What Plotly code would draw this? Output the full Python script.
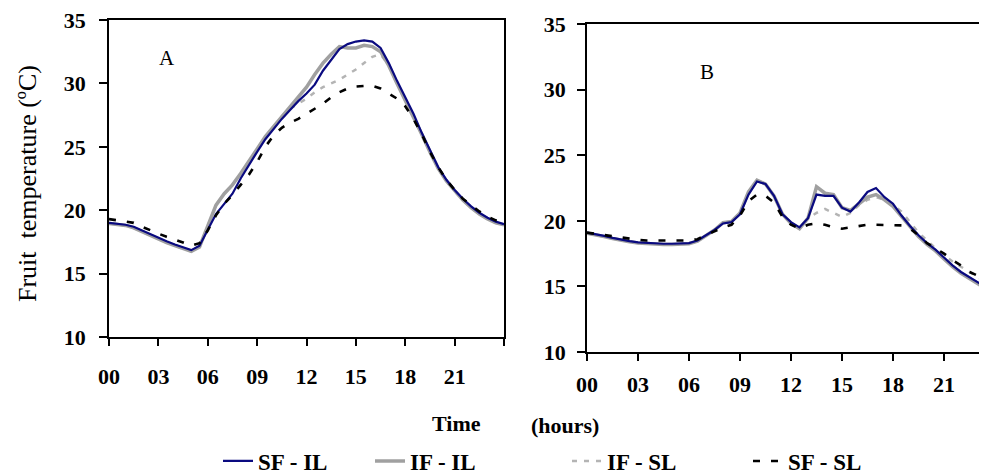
import plotly.graph_objects as go

hours = [i * 0.5 for i in range(49)]

# Panel A values (°C)
A_SF_IL = [19.0, 18.95, 18.85, 18.7, 18.4, 18.1, 17.85, 17.55, 17.3, 17.05, 16.85, 17.2, 18.4, 19.7, 20.5, 21.3,
           22.5, 23.6, 24.6, 25.6, 26.4, 27.2, 27.9, 28.6, 29.2, 29.9, 31.0, 31.9, 32.7, 33.1, 33.3, 33.4,
           33.3, 32.8, 31.6, 30.2, 28.9, 27.6, 26.1, 24.7, 23.4, 22.4, 21.6, 20.9, 20.3, 19.8, 19.4, 19.1, 18.9]
A_IF_IL = [18.95, 18.9, 18.8, 18.6, 18.3, 18.0, 17.75, 17.45, 17.2, 16.95, 16.75, 17.1, 18.8, 20.4, 21.3, 22.0,
           22.9, 23.9, 24.9, 25.8, 26.6, 27.4, 28.2, 28.9, 29.7, 30.7, 31.6, 32.3, 32.9, 32.8, 32.8, 33.0,
           32.9, 32.5, 31.4, 30.0, 28.7, 27.4, 26.0, 24.6, 23.3, 22.3, 21.5, 20.8, 20.2, 19.7, 19.3, 19.0, 18.85]
A_IF_SL = [18.95, 18.9, 18.8, 18.6, 18.3, 18.0, 17.75, 17.45, 17.2, 16.95, 16.75, 17.1, 18.8, 20.4, 21.3, 22.0,
           22.9, 23.9, 24.9, 25.8, 26.6, 27.4, 28.0, 28.4, 28.8, 29.3, 29.7, 30.0, 30.3, 30.7, 31.1, 31.6,
           32.1, 32.3, 31.4, 30.0, 28.7, 27.4, 26.0, 24.6, 23.3, 22.3, 21.5, 20.8, 20.2, 19.7, 19.3, 19.0, 18.85]
A_SF_SL = [19.3, 19.2, 19.1, 19.0, 18.7, 18.4, 18.15, 17.9, 17.7, 17.45, 17.2, 17.4, 18.4, 19.6, 20.5, 21.2,
           22.0, 22.8, 23.8, 25.0, 25.9, 26.5, 26.9, 27.2, 27.6, 28.0, 28.4, 28.9, 29.3, 29.6, 29.75, 29.8,
           29.8, 29.6, 29.2, 28.8, 28.2, 27.2, 26.0, 24.6, 23.4, 22.4, 21.6, 20.9, 20.4, 19.9, 19.5, 19.2, 19.0]

# Panel B values (°C)
B_SF_IL = [19.1, 19.0, 18.85, 18.7, 18.55, 18.45, 18.35, 18.3, 18.25, 18.25, 18.25, 18.25, 18.3, 18.5, 18.9, 19.3,
           19.8, 19.9, 20.5, 22.0, 23.0, 22.8, 21.9, 20.5, 19.9, 19.5, 20.2, 22.0, 21.9, 21.9, 21.0, 20.7,
           21.4, 22.2, 22.5, 21.8, 21.3, 20.4, 19.6, 18.9, 18.3, 17.8, 17.2, 16.6, 16.1, 15.7, 15.3, 14.9, 14.6]
B_IF_IL = [19.05, 18.95, 18.8, 18.65, 18.5, 18.4, 18.3, 18.25, 18.2, 18.2, 18.2, 18.2, 18.25, 18.45, 18.85, 19.3,
           19.85, 19.95, 20.6, 22.2, 23.1, 22.8, 21.9, 20.5, 19.8, 19.4, 20.2, 22.6, 22.1, 22.0, 21.0, 20.8,
           21.3, 21.8, 22.0, 21.6, 21.1, 20.3, 19.5, 18.8, 18.2, 17.7, 17.1, 16.5, 16.0, 15.6, 15.2, 14.8, 14.5]
B_IF_SL = [19.05, 18.95, 18.8, 18.65, 18.5, 18.4, 18.3, 18.25, 18.2, 18.2, 18.2, 18.2, 18.25, 18.45, 18.85, 19.3,
           19.85, 19.95, 20.6, 22.2, 23.1, 22.8, 21.9, 20.5, 19.8, 19.4, 20.2, 20.6, 20.9, 20.6, 20.3, 20.6,
           21.2, 21.6, 21.8, 21.6, 21.2, 20.7, 19.9, 19.1, 18.5, 17.9, 17.4, 16.9, 16.5, 16.1, 15.7, 15.3, 15.0]
B_SF_SL = [19.1, 19.0, 18.9, 18.8, 18.7, 18.6, 18.55, 18.5, 18.5, 18.5, 18.5, 18.5, 18.5, 18.6, 18.9, 19.2,
           19.5, 19.7, 20.4, 21.5, 22.0, 21.9, 21.4, 20.3, 19.7, 19.4, 19.7, 19.8, 19.7, 19.5, 19.4, 19.5,
           19.6, 19.7, 19.7, 19.7, 19.7, 19.65, 19.4, 18.9, 18.3, 17.9, 17.5, 17.0, 16.6, 16.1, 15.8, 15.5, 15.2]

series_names = ["SF - IL", "IF - IL", "IF - SL", "SF - SL"]
x_tickvals = [0, 3, 6, 9, 12, 15, 18, 21, 24]
x_ticktext = ["00", "03", "06", "09", "12", "15", "18", "21", ""]
y_tickvals = [10, 15, 20, 25, 30, 35]

styles = {
    "SF - IL": dict(color="#0a0a80", width=2.2, dash="solid"),
    "IF - IL": dict(color="#a0a0a0", width=3.5, dash="solid"),
    "IF - SL": dict(color="#b4b4b4", width=2.5, dash="5px,7px"),
    "SF - SL": dict(color="#000000", width=2.6, dash="7px,11px"),
}
legend_ids = {"SF - IL": "legend", "IF - IL": "legend2", "IF - SL": "legend3", "SF - SL": "legend4"}
draw_order = ["IF - SL", "IF - IL", "SF - IL", "SF - SL"]

data_A = {"SF - IL": A_SF_IL, "IF - IL": A_IF_IL, "IF - SL": A_IF_SL, "SF - SL": A_SF_SL}
data_B = {"SF - IL": B_SF_IL, "IF - IL": B_IF_IL, "IF - SL": B_IF_SL, "SF - SL": B_SF_SL}

fig = go.Figure()
for name in draw_order:
    fig.add_trace(go.Scatter(x=hours, y=data_A[name], mode="lines", name=name, line=styles[name],
                             xaxis="x", yaxis="y", legend=legend_ids[name], showlegend=True))
    fig.add_trace(go.Scatter(x=hours, y=data_B[name], mode="lines", name=name, line=styles[name],
                             xaxis="x2", yaxis="y2", showlegend=False))

W, H = 987, 474
OFF = 8  # page body margin offset of the figure inside the browser window

def px(x):
    return (x - OFF) / W
def py(y):
    return 1 - (y - OFF) / H

tickfont = dict(family="Liberation Serif", size=22, color="black", weight="bold")
axis_common = dict(showgrid=False, zeroline=False, showline=True, linecolor="black", linewidth=1.5,
                   ticks="outside", tickcolor="black", tickwidth=1.5, tickfont=tickfont, automargin=False,
                   ticklabeloverflow="allow")

fig.update_layout(
    width=W, height=H, margin=dict(l=0, r=0, t=0, b=0, autoexpand=False),
    paper_bgcolor="white", plot_bgcolor="white",
    xaxis=dict(domain=[px(109), px(504)], range=[0, 24], tickvals=x_tickvals, ticktext=x_ticktext,
               ticklen=7, mirror=True, anchor="y", ticklabelstandoff=12, **axis_common),
    yaxis=dict(domain=[py(337), py(20)], range=[10, 35], tickvals=y_tickvals, ticklen=8,
               mirror=True, anchor="x", ticklabelstandoff=9, **axis_common),
    xaxis2=dict(domain=[px(587), 1.0], range=[0, 24], tickvals=x_tickvals, ticktext=x_ticktext,
                ticklen=7, mirror=True, anchor="y2", ticklabelstandoff=5, **axis_common),
    yaxis2=dict(domain=[py(352), py(24)], range=[10, 35], tickvals=y_tickvals, ticklen=8,
                mirror=False, anchor="x2", ticklabelstandoff=7, **axis_common),
    font=dict(family="Liberation Serif", color="black"),
)

legend_font = dict(family="Liberation Serif", size=23, color="black", weight="bold")
legend_x = {"legend": 218, "legend2": 370, "legend3": 567, "legend4": 748}
for lid, lx in legend_x.items():
    fig.update_layout({lid: dict(x=px(lx), y=py(461), xanchor="left", yanchor="middle",
                                 orientation="h", font=legend_font, bgcolor="rgba(0,0,0,0)",
                                 borderwidth=0)})

annotations = [
    dict(text="A", x=px(167), y=py(58), font=dict(size=21, family="Liberation Serif")),
    dict(text="B", x=px(707), y=py(72), font=dict(size=21, family="Liberation Serif")),
    dict(text="Fruit  temperature (ºC)", x=px(27), y=py(184), textangle=-90,
         font=dict(size=26, family="Liberation Serif")),
    dict(text="Time", x=px(456), y=py(423), font=dict(size=22, family="Liberation Serif", weight="bold")),
    dict(text="(hours)", x=px(565), y=py(425), font=dict(size=22, family="Liberation Serif", weight="bold")),
]
for a in annotations:
    fig.add_annotation(xref="paper", yref="paper", showarrow=False, xanchor="center", yanchor="middle", **a)

fig.write_html("out.html")
